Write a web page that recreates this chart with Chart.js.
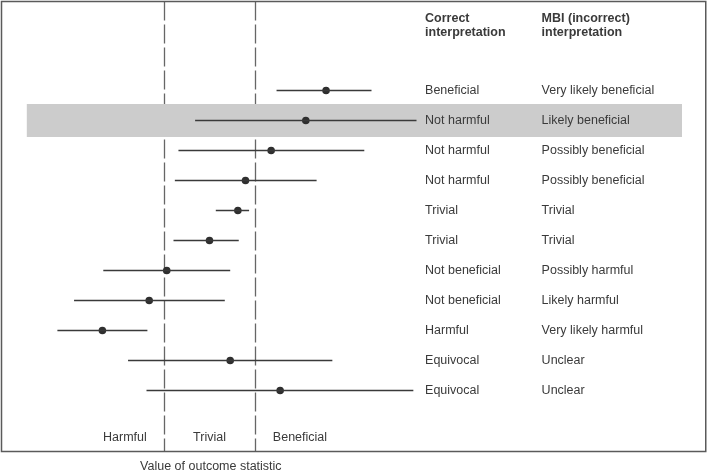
<!DOCTYPE html>
<html lang="en">
<head>
    <meta charset="UTF-8">
    <title>Outcome statistic interpretation</title>
    <script src="https://cdn.jsdelivr.net/npm/chart.js"></script>
    <style>
        body {
            margin: 0;
            background: #ffffff;
        }

        #chart {
            display: block;
        }
    </style>
</head>
<body>
    <canvas id="chart" width="709" height="472"></canvas>

    <script>
        // Row data, top to bottom (row index = y value)
        const correctLabels = ['Beneficial', 'Not harmful', 'Not harmful', 'Not harmful', 'Trivial', 'Trivial',
            'Not beneficial', 'Not beneficial', 'Harmful', 'Equivocal', 'Equivocal'];
        const mbiLabels = ['Very likely beneficial', 'Likely beneficial', 'Possibly beneficial', 'Possibly beneficial',
            'Trivial', 'Trivial', 'Possibly harmful', 'Likely harmful', 'Very likely harmful', 'Unclear', 'Unclear'];
        const lower = [1.49, -0.32, -0.69, -0.77, 0.14, -0.80, -2.36, -3.01, -3.38, -1.81, -1.40];
        const estimate = [2.59, 2.14, 1.37, 0.80, 0.63, 0.00, -0.95, -1.34, -2.38, 0.46, 1.57];
        const upper = [3.60, 4.60, 3.44, 2.38, 0.88, 0.65, 0.46, 0.34, -1.38, 2.73, 4.53];

        // Smallest important harmful / beneficial values
        const thresholds = [-1, 1];
        const regionLabels = ['Harmful', 'Trivial', 'Beneficial'];
        const regionCentres = [-1.88, 0, 2.01];
        const highlightRow = 1;

        const headers = [['Correct', 'interpretation'], ['MBI (incorrect)', 'interpretation']];
        const axisTitle = 'Value of outcome statistic';

        const ink = '#3a3a3a';
        const font = '"Liberation Sans", Arial, sans-serif';

        const ciDatasets = lower.map((lo, i) => ({
            data: [{ x: lo, y: i }, { x: upper[i], y: i }],
            showLine: true,
            borderColor: ink,
            borderWidth: 1.3,
            pointRadius: 0
        }));

        const pointDataset = {
            data: estimate.map((v, i) => ({ x: v, y: i })),
            pointRadius: 3.8,
            pointBackgroundColor: '#2f2f2f',
            pointBorderWidth: 0
        };

        const decorations = {
            id: 'decorations',
            beforeDatasetsDraw(chart) {
                const { ctx, chartArea: a, scales: { x, y } } = chart;
                ctx.save();

                // threshold lines
                ctx.strokeStyle = '#666666';
                ctx.lineWidth = 1.3;
                ctx.setLineDash([19, 4]);
                thresholds.forEach(t => {
                    const px = Math.round(x.getPixelForValue(t)) + 0.5;
                    ctx.beginPath();
                    ctx.moveTo(px, a.top + 1);
                    ctx.lineTo(px, a.bottom + 1);
                    ctx.stroke();
                });
                ctx.setLineDash([]);

                // highlighted row
                const top = y.getPixelForValue(highlightRow - 0.55);
                const bottom = y.getPixelForValue(highlightRow + 0.55);
                const left = x.getPixelForValue(-4.06);
                const right = x.getPixelForValue(10.5);
                ctx.fillStyle = '#cccccc';
                ctx.fillRect(left, top, right - left, bottom - top);
                ctx.restore();
            },
            afterDraw(chart) {
                const { ctx, chartArea: a, scales: { x, y } } = chart;
                ctx.save();

                // frame
                ctx.strokeStyle = '#5a5a5a';
                ctx.lineWidth = 1.5;
                ctx.strokeRect(a.left - 1, a.top + 1, a.right - a.left, a.bottom - a.top);

                ctx.fillStyle = ink;
                ctx.textBaseline = 'middle';

                // column headers
                const colX = [x.getPixelForValue(4.79), x.getPixelForValue(7.38)];
                ctx.font = 'bold 12.5px ' + font;
                ctx.textAlign = 'left';
                headers.forEach((lines, c) => {
                    ctx.fillText(lines[0], colX[c], y.getPixelForValue(-2.4));
                    ctx.fillText(lines[1], colX[c], y.getPixelForValue(-1.92));
                });

                // row interpretations
                ctx.font = '12.5px ' + font;
                correctLabels.forEach((label, i) => {
                    ctx.fillText(label, colX[0], y.getPixelForValue(i));
                    ctx.fillText(mbiLabels[i], colX[1], y.getPixelForValue(i));
                });

                // region labels
                ctx.textAlign = 'center';
                regionLabels.forEach((label, i) => {
                    ctx.fillText(label, x.getPixelForValue(regionCentres[i]), y.getPixelForValue(11.57));
                });

                // axis title below the frame
                ctx.fillText(axisTitle, x.getPixelForValue(0.03), y.getPixelForValue(12.54));
                ctx.restore();
            }
        };

        new Chart(document.getElementById('chart'), {
            type: 'scatter',
            data: {
                datasets: [...ciDatasets, pointDataset]
            },
            options: {
                responsive: false,
                animation: false,
                layout: {
                    autoPadding: false,
                    padding: { left: 2.5, right: 2.25, top: 0.5, bottom: 21.5 }
                },
                plugins: {
                    legend: { display: false },
                    tooltip: { enabled: false }
                },
                scales: {
                    x: { type: 'linear', min: -4.6, max: 11.05, display: false },
                    y: { type: 'linear', min: -3, max: 12, reverse: true, display: false }
                }
            },
            plugins: [decorations]
        });
    </script>
</body>
</html>
